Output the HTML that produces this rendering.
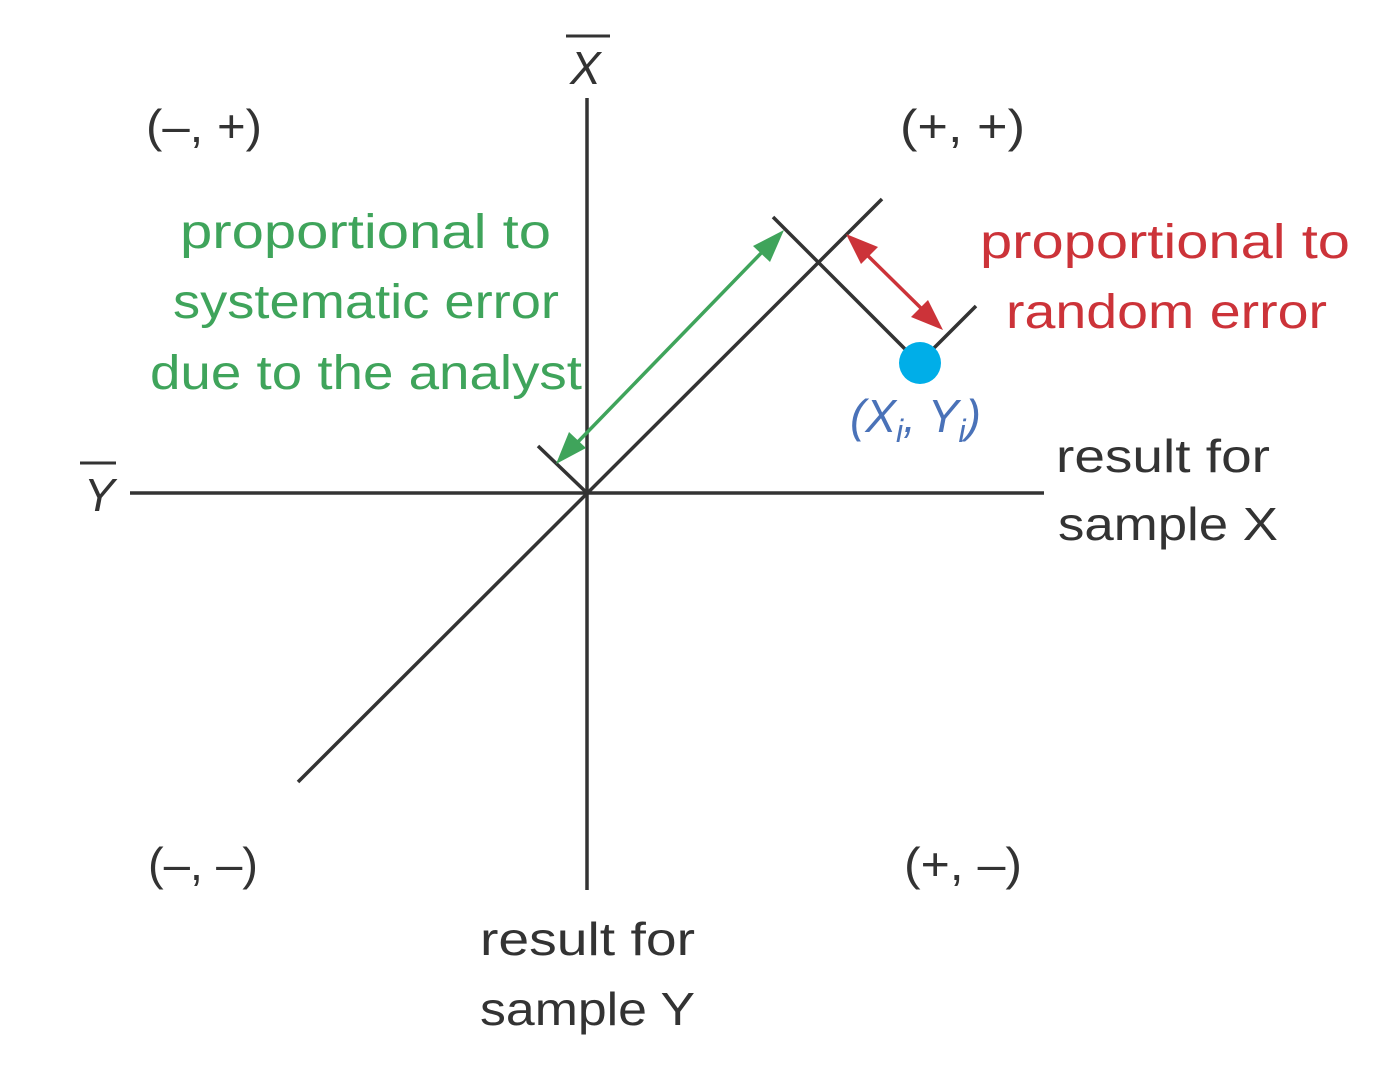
<!DOCTYPE html>
<html><head><style>
body{margin:0;background:#fff;}
svg{display:block;}
text{font-family:"Liberation Sans",sans-serif;}
</style></head><body>
<svg width="1388" height="1077" viewBox="0 0 1388 1077">
<g stroke="#333" stroke-width="3.5" fill="none">
<line x1="587" y1="98" x2="587" y2="890"/>
<line x1="130" y1="493" x2="1044" y2="493"/>
<line x1="298" y1="782" x2="882" y2="199"/>
<line x1="773" y1="217" x2="906" y2="350"/>
<line x1="934" y1="348" x2="976" y2="306"/>
<line x1="538" y1="446" x2="587" y2="493"/>
</g>
<line x1="572" y1="448" x2="768" y2="246" stroke="#3fa45b" stroke-width="3.5"/>
<polygon points="784,230 770,262 753,246" fill="#3fa45b"/>
<polygon points="556,464 569,432 586,448" fill="#3fa45b"/>
<line x1="861" y1="249" x2="928" y2="315" stroke="#cc3339" stroke-width="3.5"/>
<polygon points="846,234 878,247 861,264" fill="#cc3339"/>
<polygon points="943,330 911,317 928,300" fill="#cc3339"/>
<circle cx="920" cy="363" r="21" fill="#00aee8"/>
<g font-size="46" fill="#333" lengthAdjust="spacingAndGlyphs">
<text x="146" y="142" textLength="116" lengthAdjust="spacingAndGlyphs">(–, +)</text>
<text x="900" y="142" textLength="125" lengthAdjust="spacingAndGlyphs">(+, +)</text>
<text x="148" y="880" textLength="110" lengthAdjust="spacingAndGlyphs">(–, –)</text>
<text x="904" y="880" textLength="118" lengthAdjust="spacingAndGlyphs">(+, –)</text>
<text x="1056" y="472" textLength="214" lengthAdjust="spacingAndGlyphs">result for</text>
<text x="1058" y="540" textLength="220" lengthAdjust="spacingAndGlyphs">sample X</text>
<text x="480" y="955" textLength="215" lengthAdjust="spacingAndGlyphs">result for</text>
<text x="480" y="1025" textLength="215" lengthAdjust="spacingAndGlyphs">sample Y</text>
<text x="570" y="84" font-style="italic">X</text>
<text x="84" y="511" font-style="italic">Y</text>
</g>
<line x1="566" y1="36" x2="610" y2="36" stroke="#333" stroke-width="3"/>
<line x1="80" y1="463" x2="116" y2="463" stroke="#333" stroke-width="3"/>
<g font-size="48" fill="#3fa45b">
<text x="180" y="248" textLength="371" lengthAdjust="spacingAndGlyphs">proportional to</text>
<text x="173" y="318" textLength="386" lengthAdjust="spacingAndGlyphs">systematic error</text>
<text x="150" y="389" textLength="432" lengthAdjust="spacingAndGlyphs">due to the analyst</text>
</g>
<g font-size="48" fill="#cc3339">
<text x="980" y="258" textLength="370" lengthAdjust="spacingAndGlyphs">proportional to</text>
<text x="1006" y="328" textLength="321" lengthAdjust="spacingAndGlyphs">random error</text>
</g>
<text x="850" y="432" font-size="46" fill="#4a72b8" font-style="italic">(X<tspan font-size="32" dy="10">i</tspan><tspan dy="-10">, Y</tspan><tspan font-size="32" dy="10">i</tspan><tspan dy="-10">)</tspan></text>
</svg>
</body></html>
